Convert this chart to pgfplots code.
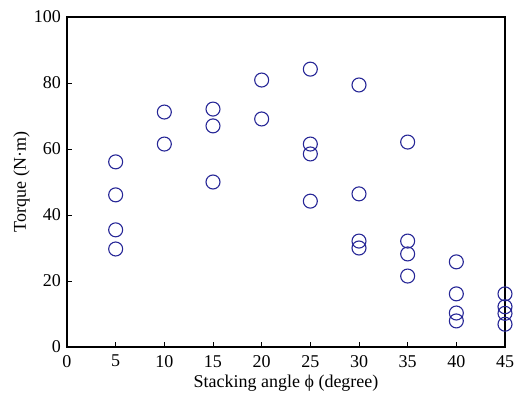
\documentclass[border=0pt]{standalone}
\usepackage{pgfplots}
\pgfplotsset{compat=1.18}
\usepackage{fontspec}
\setmainfont{Liberation Serif}
\definecolor{mk}{RGB}{38,38,150}
\begin{document}
\fontsize{18}{21}\selectfont
\begin{tikzpicture}
\begin{axis}[
  scale only axis, width=438pt, height=330pt,
  xmin=0, xmax=45, ymin=0, ymax=100,
  xtick={0,5,...,45}, ytick={0,20,...,100},
  xtick pos=lower, ytick pos=left, tick align=inside,
  major tick length=5pt,
  axis line style={line width=1.1pt}, tick style={line width=0.9pt, black},
  /pgf/number format/assume math mode=true,
  ticklabel style={font=\fontsize{18}{21}\selectfont},
  xticklabel style={inner sep=0pt, yshift=-8pt},
  label style={font=\fontsize{18}{21}\selectfont},
  xlabel={Stacking angle ϕ (degree)},
  ylabel={Torque (N·m)},
  xlabel style={inner sep=0pt, yshift=-7pt},
  ylabel style={yshift=-8pt},
  clip=false,
]
\addplot[only marks, mark=o, mark size=7pt, color=mk, mark options={line width=1.1pt}] coordinates {
(5,56.1) (5,46.1) (5,35.5) (5,29.7)
(10,71.2) (10,61.5)
(15,72.1) (15,67.0) (15,50.0)
(20,80.9) (20,69.1)
(25,84.2) (25,61.5) (25,58.5) (25,44.2)
(30,79.4) (30,46.4) (30,32.1) (30,30.0)
(35,62.1) (35,32.1) (35,28.2) (35,21.5)
(40,25.8) (40,16.1) (40,10.3) (40,7.9)
(45,16.1) (45,12.2) (45,10.2) (45,6.9)
};
\path (rel axis cs:0,1) ++(-67pt,17pt) coordinate (topspace);
\path (rel axis cs:0,0) ++(0,-47pt) coordinate (botspace);
\end{axis}
\end{tikzpicture}
\end{document}
